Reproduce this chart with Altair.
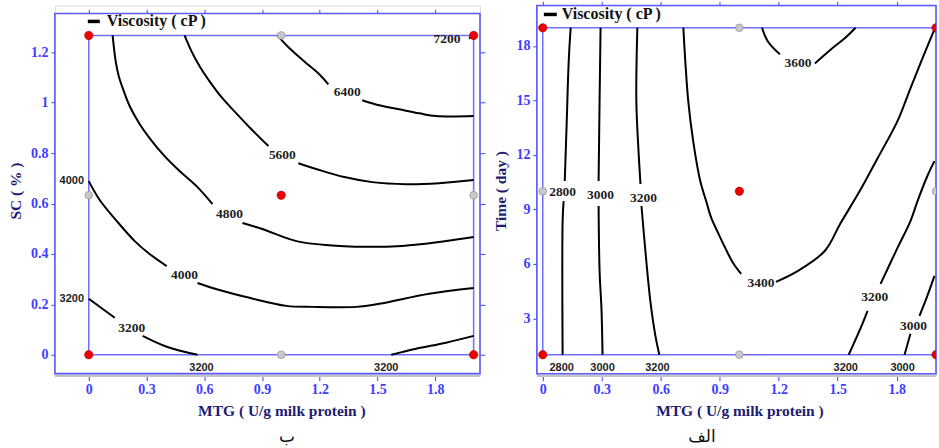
import altair as alt
import pandas as pd

# ---------------- shared text ----------------
LEGEND_TEXT = "Viscosity  ( cP )"
X_TITLE = "MTG ( U/g milk protein )"

# ---------------- Panel "ب" (left): MTG vs SC ----------------
L_XTICKS = [0, 0.3, 0.6, 0.9, 1.2, 1.5, 1.8]
L_YTICKS = [0, 0.2, 0.4, 0.6, 0.8, 1.0, 1.2]
L_XMAX, L_YMAX = 2.0, 1.267

L_7200 = [(1.976, 1.255), (2.0, 1.267)]
L_6400a = [(0.980, 1.267), (1.043, 1.216), (1.120, 1.164), (1.198, 1.113), (1.245, 1.073)]
L_6400b = [(1.421, 1.010), (1.509, 0.990), (1.613, 0.974), (1.717, 0.958), (1.805, 0.947), (2.0, 0.947)]
L_5600a = [(0.498, 1.267), (0.534, 1.204), (0.576, 1.145), (0.628, 1.085), (0.690, 1.022),
           (0.757, 0.966), (0.835, 0.903), (0.934, 0.828)]
L_5600b = [(1.089, 0.760), (1.198, 0.733), (1.328, 0.705), (1.473, 0.685), (1.649, 0.677),
           (1.821, 0.681), (2.0, 0.693)]
L_4800a = [(0.124, 1.267), (0.140, 1.164), (0.156, 1.105), (0.182, 1.046), (0.213, 0.986),
           (0.265, 0.915), (0.317, 0.859), (0.394, 0.788), (0.472, 0.729), (0.560, 0.669), (0.643, 0.598)]
L_4800b = [(0.799, 0.523), (0.902, 0.499), (1.079, 0.451), (1.302, 0.432), (1.629, 0.432),
           (1.857, 0.451), (2.0, 0.467)]
L_4000a = [(0.0, 0.689), (0.057, 0.614), (0.145, 0.531), (0.239, 0.451), (0.316, 0.400), (0.405, 0.352)]
L_4000b = [(0.565, 0.285), (0.679, 0.257), (0.835, 0.226), (1.027, 0.194), (1.162, 0.190),
           (1.390, 0.190), (1.509, 0.202), (1.769, 0.242), (2.0, 0.265)]
L_3200a = [(0.0, 0.222), (0.135, 0.147)]
L_3200b = [(0.280, 0.075), (0.405, 0.032), (0.565, 0.0)]
L_3200c = [(1.572, 0.0), (1.701, 0.024), (1.857, 0.048), (2.0, 0.075)]
L_SEGMENTS = [L_7200, L_6400a, L_6400b, L_5600a, L_5600b, L_4800a, L_4800b,
              L_4000a, L_4000b, L_3200a, L_3200b, L_3200c]

L_LABELS_IN = [("7200", 1.862, 1.251), ("6400", 1.343, 1.042), ("5600", 1.006, 0.792),
               ("4800", 0.731, 0.558), ("4000", 0.498, 0.317), ("3200", 0.223, 0.107)]
L_LABELS_EDGE = [("4000", -0.088, 0.689), ("3200", -0.088, 0.222),
                 ("3200", 0.586, -0.051), ("3200", 1.546, -0.051)]
L_RED = [(0, 0), (0, L_YMAX), (L_XMAX, L_YMAX), (L_XMAX, 0), (1.0, 0.633)]
L_GRAY = [(1.0, L_YMAX), (0, 0.633), (L_XMAX, 0.633), (1.0, 0)]

# ---------------- Panel "الف" (right): MTG vs Time ----------------
R_XTICKS = [0, 0.3, 0.6, 0.9, 1.2, 1.5, 1.8]
R_YTICKS = [3, 6, 9, 12, 15, 18]
R_XMAX, R_YMIN, R_YMAX = 2.0, 1.0, 19.0

R_2800a = [(0.142, 19.0), (0.132, 17.15), (0.122, 13.86), (0.112, 10.56)]
R_2800b = [(0.106, 9.46), (0.101, 8.36), (0.101, 1.0)]
R_3000a = [(0.294, 19.0), (0.289, 14.96), (0.284, 10.56)]
R_3000b = [(0.284, 9.19), (0.289, 5.62), (0.299, 3.42), (0.304, 1.0)]
R_3200a = [(0.481, 19.0), (0.476, 14.96), (0.487, 12.21), (0.497, 10.40)]
R_3200b = [(0.502, 9.19), (0.522, 6.71), (0.547, 3.97), (0.573, 2.04), (0.593, 1.0)]
R_3400a = [(0.715, 19.0), (0.725, 17.15), (0.740, 14.96), (0.765, 12.76), (0.801, 10.56),
           (0.831, 9.46), (0.857, 8.53), (0.892, 7.70), (0.928, 6.88), (0.968, 6.05), (1.009, 5.45)]
R_3400b = [(1.186, 5.01), (1.298, 5.62), (1.434, 6.71), (1.515, 8.25), (1.612, 10.01),
           (1.703, 11.82), (1.804, 13.86), (1.870, 15.67), (1.931, 17.32), (1.992, 18.91)]
R_3600a = [(1.115, 19.0), (1.145, 18.25), (1.206, 17.54)]
R_3600b = [(1.384, 17.04), (1.465, 17.81), (1.536, 18.42), (1.591, 19.0)]
R_3200c = [(1.556, 1.0), (1.617, 2.48), (1.652, 3.42)]
R_3200d = [(1.718, 4.90), (1.804, 6.88), (1.870, 8.36), (1.906, 9.46), (1.956, 10.84), (1.992, 11.66)]
R_3000c = [(1.840, 1.0), (1.870, 2.15)]
R_3000d = [(1.916, 3.14), (1.956, 4.24), (1.992, 5.34)]
R_SEGMENTS = [R_2800a, R_2800b, R_3000a, R_3000b, R_3200a, R_3200b, R_3400a, R_3400b,
              R_3600a, R_3600b, R_3200c, R_3200d, R_3000c, R_3000d]

R_LABELS_IN = [("2800", 0.101, 9.96), ("3000", 0.294, 9.79), ("3200", 0.512, 9.63),
               ("3400", 1.110, 4.96), ("3600", 1.298, 17.04), ("3200", 1.688, 4.19),
               ("3000", 1.885, 2.59)]
R_LABELS_EDGE = [("2800", 0.096, 0.29), ("3000", 0.304, 0.29), ("3200", 0.583, 0.29),
                 ("3200", 1.541, 0.29), ("3000", 1.830, 0.29)]
R_RED = [(0, R_YMIN), (0, R_YMAX), (R_XMAX, R_YMAX), (R_XMAX, R_YMIN), (1.0, 10.0)]
R_GRAY = [(1.0, R_YMAX), (0, 10.0), (R_XMAX, 10.0), (1.0, R_YMIN)]

# ---------------- styling ----------------
SERIF = "Liberation Serif"
BLUE = "#3d3dff"
FRAME_BLUE = "#5a5aff"
NAVY = "#1d1d70"


def seg_df(segments):
    rows = []
    for i, seg in enumerate(segments):
        for j, (x, y) in enumerate(seg):
            rows.append({"seg": i, "o": j, "x": x, "y": y})
    return pd.DataFrame(rows)


def pts_df(pts):
    return pd.DataFrame([{"x": x, "y": y} for x, y in pts])


def lab_df(labs):
    return pd.DataFrame([{"t": t, "x": x, "y": y} for t, x, y in labs])


def panel(segments, lab_in, lab_edge, red, gray, xdom, ydom, outer, inner,
          xticks, yticks, ytitle, yfmt, w, h, top_offset, right_axis,
          legend_px, caption, caption_x, title_x):
    xs = alt.Scale(domain=xdom, nice=False, zero=False)
    ys = alt.Scale(domain=ydom, nice=False, zero=False)

    xb = alt.Axis(orient="bottom", values=xticks, format=".1~f", title=X_TITLE, grid=False,
                  domain=False, tickSize=5, tickColor=BLUE, labelColor=BLUE, labelFont=SERIF,
                  labelFontWeight="bold", labelFontSize=14, labelPadding=2, titleFont=SERIF,
                  titleFontWeight="bold", titleFontSize=15.5, titleColor=NAVY, titlePadding=7,
                  titleX=title_x)
    yl = alt.Axis(orient="left", values=yticks, format=yfmt, title=ytitle, grid=False,
                  domain=False, tickSize=4, tickColor=BLUE, labelColor=BLUE, labelFont=SERIF,
                  labelFontWeight="bold", labelFontSize=14, labelPadding=3, titleFont=SERIF,
                  titleFontWeight="bold", titleFontSize=15.5, titleColor=NAVY, titlePadding=7)
    xt = alt.Axis(orient="top", values=xticks, labels=False, title=None, grid=False,
                  domain=False, tickSize=4, tickColor=BLUE, offset=top_offset)

    of = pd.DataFrame([outer])
    inn = pd.DataFrame([inner])

    outer_rect = alt.Chart(of).mark_rect(fillOpacity=0, stroke=FRAME_BLUE, strokeWidth=1.6).encode(
        x=alt.X("x1:Q", scale=xs, axis=xt), x2="x2:Q",
        y=alt.Y("y1:Q", scale=ys,
                axis=(alt.Axis(orient="right", values=yticks, labels=False, title=None, grid=False,
                               domain=False, tickSize=5, tickColor=BLUE) if right_axis else None)),
        y2="y2:Q")
    shadow = alt.Chart(of).mark_rule(color="#c4c4c4", strokeWidth=2.5).encode(
        x=alt.X("x1:Q", scale=xs, axis=None), x2="x2:Q",
        y=alt.Y("ys:Q", scale=ys, axis=None))
    inner_rect = alt.Chart(inn).mark_rect(fillOpacity=0, stroke="#6f6fff", strokeWidth=1.5).encode(
        x=alt.X("x1:Q", scale=xs, axis=None), x2="x2:Q",
        y=alt.Y("y1:Q", scale=ys, axis=None), y2="y2:Q")

    lines = alt.Chart(seg_df(segments)).mark_line(
        color="black", strokeWidth=2, interpolate="catmull-rom").encode(
        x=alt.X("x:Q", scale=xs, axis=xb), y=alt.Y("y:Q", scale=ys, axis=yl),
        detail="seg:N", order="o:Q")

    tin = alt.Chart(lab_df(lab_in)).mark_text(
        font=SERIF, fontWeight="bold", fontSize=13.5, color="#1e1e1e").encode(
        x=alt.X("x:Q", scale=xs, axis=None), y=alt.Y("y:Q", scale=ys, axis=None), text="t:N")
    tedge = alt.Chart(lab_df(lab_edge)).mark_text(
        font="Liberation Sans", fontWeight="bold", fontSize=11, color="#1e1e1e").encode(
        x=alt.X("x:Q", scale=xs, axis=None), y=alt.Y("y:Q", scale=ys, axis=None), text="t:N")

    gdots = alt.Chart(pts_df(gray)).mark_circle(
        size=60, color="#c8c8c8", opacity=1, stroke="#8a8a8a", strokeWidth=0.6, clip=True).encode(
        x=alt.X("x:Q", scale=xs, axis=None), y=alt.Y("y:Q", scale=ys, axis=None))
    rdots = alt.Chart(pts_df(red)).mark_circle(
        size=70, color="#ee0000", opacity=1, stroke="#a00000", strokeWidth=0.6, clip=True).encode(
        x=alt.X("x:Q", scale=xs, axis=None), y=alt.Y("y:Q", scale=ys, axis=None))

    lx0, lx1, ly, tx = legend_px
    leg_line = alt.Chart(of).mark_rule(color="black", strokeWidth=3.5).encode(
        x=alt.value(lx0), x2=alt.value(lx1), y=alt.value(ly))
    leg_text = alt.Chart(of).mark_text(
        font=SERIF, fontWeight="bold", fontSize=16, color="#111111", align="left",
        baseline="middle").encode(x=alt.value(tx), y=alt.value(ly), text=alt.datum(LEGEND_TEXT))

    cap = alt.Chart(of).mark_text(
        font="DejaVu Sans", fontSize=17, color="#111111", align="center",
        baseline="middle").encode(
        x=alt.X("cx:Q", scale=xs, axis=None), y=alt.value(h + 61), text=alt.datum(caption)
    ).transform_calculate(cx=str(caption_x))

    return alt.layer(
        shadow, outer_rect, inner_rect, lines, tin, tedge, gdots, rdots,
        leg_line, leg_text, cap
    ).resolve_axis(x="independent", y="independent").properties(width=w, height=h)


H = 371
left = panel(
    L_SEGMENTS, L_LABELS_IN, L_LABELS_EDGE, L_RED, L_GRAY,
    xdom=[-0.176, 2.033], ydom=[-0.083, 1.386],
    outer={"x1": -0.176, "x2": 2.033, "y1": -0.075, "y2": 1.354, "ys": -0.083},
    inner={"x1": 0, "x2": L_XMAX, "y1": 0, "y2": L_YMAX},
    xticks=L_XTICKS, yticks=L_YTICKS, ytitle="SC ( % )", yfmt=".1~f",
    w=426, h=H, top_offset=-8, right_axis=True,
    legend_px=(33, 45, 16, 52), caption="ب", caption_x=1.03, title_x=227)

right = panel(
    R_SEGMENTS, R_LABELS_IN, R_LABELS_EDGE, R_RED, R_GRAY,
    xdom=[-0.030, 2.0], ydom=[-0.154, 20.23],
    outer={"x1": -0.030, "x2": 2.0, "y1": -0.044, "y2": 20.23, "ys": -0.154},
    inner={"x1": 0, "x2": R_XMAX, "y1": R_YMIN, "y2": R_YMAX},
    xticks=R_XTICKS, yticks=R_YTICKS, ytitle="Time ( day )", yfmt="d",
    w=400, h=H, top_offset=0, right_axis=False,
    legend_px=(7, 20, 9, 25), caption="الف", caption_x=0.81, title_x=203)

chart = alt.hconcat(left, right, spacing=57, bounds="flush").properties(
    padding={"left": 8, "top": 0, "right": 0, "bottom": 0}
).configure_view(stroke=None).configure(background="white")

chart.save("out.html", embed_options={"renderer": "svg", "actions": False})
